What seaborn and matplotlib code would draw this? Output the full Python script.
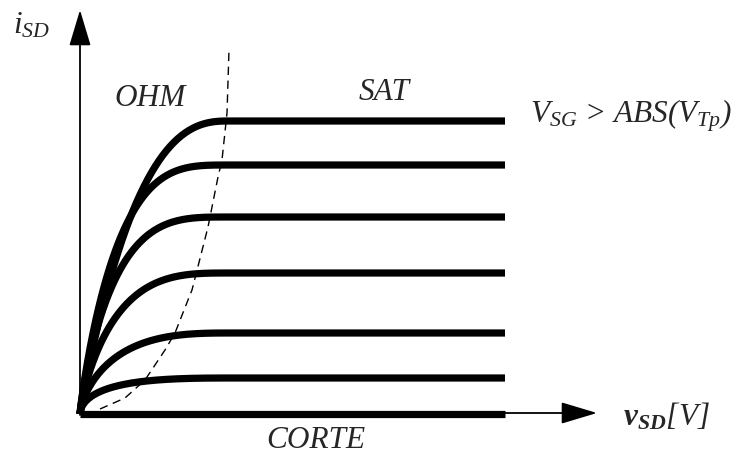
import numpy as np
import pandas as pd
import matplotlib
matplotlib.use("Agg")
import matplotlib.pyplot as plt
import seaborn as sns

# ---- data (schematic units: v in V, i in mA) ----
sat_levels = [2.93, 2.49, 1.97, 1.41, 0.81, 0.36]   # saturation currents
curve_shape = [2.5, 3.3, 3.3, 3.0, 2.6, 2.4]         # curvature of ohmic region
curve_warp = [0.95, 0.9, 0.85, 0.8, 0.7, 0.55]       # steepness near origin
v_knee = 1.48                                        # end of ohmic region
v_end = 4.25                                         # end of drawn characteristic
boundary_v = [0.20, 0.45, 0.65, 0.85, 0.95, 1.08, 1.12, 1.28, 1.38, 1.42, 1.47, 1.49]
boundary_i = [0.05, 0.16, 0.34, 0.64, 0.81, 1.14, 1.24, 1.87, 2.37, 2.54, 3.01, 3.64]

sns.set_theme(style="white")
plt.rcParams["font.family"] = ["Liberation Serif", "DejaVu Serif"]
plt.rcParams["mathtext.fontset"] = "custom"
plt.rcParams["mathtext.rm"] = "Liberation Serif:italic"
plt.rcParams["mathtext.it"] = "Liberation Serif:italic"
plt.rcParams["mathtext.bf"] = "Liberation Serif:bold:italic"

rows = []
for k, (L, p, q) in enumerate(zip(sat_levels, curve_shape, curve_warp)):
    v = np.linspace(0, v_knee, 160)
    u = (v / v_knee) ** q
    i = L * (1 - (1 - u) ** p)
    v = np.append(v, v_end)
    i = np.append(i, L)
    for a, b in zip(v, i):
        rows.append({"v": a, "i": b, "curve": k})
# cut-off line
rows.append({"v": 0.0, "i": 0.0, "curve": 99})
rows.append({"v": v_end, "i": 0.0, "curve": 99})
df = pd.DataFrame(rows)

fig = plt.figure(figsize=(7.41, 4.58), dpi=100)
ax = fig.add_axes([0, 0, 1, 1])
ax.set_xlim(-0.80, 6.61)
ax.set_ylim(-0.44, 4.14)
ax.axis("off")

sns.lineplot(data=df, x="v", y="i", units="curve", estimator=None, sort=False,
             color="black", lw=5.2, legend=False, ax=ax,
             solid_capstyle="butt", solid_joinstyle="round")

bdf = pd.DataFrame({"v": boundary_v, "i": boundary_i})
sns.lineplot(data=bdf, x="v", y="i", sort=False, estimator=None, color="black",
             lw=1.0, ax=ax, linestyle=(0, (6, 4)))

# axes arrows
arrow = dict(arrowstyle="-|>,head_length=1.5,head_width=0.45", lw=1.3,
             color="black", mutation_scale=15, shrinkA=0, shrinkB=0)
ax.annotate("", xy=(0.0, 4.04), xytext=(0.0, -0.01), arrowprops=arrow)
ax.annotate("", xy=(5.17, 0.01), xytext=(-0.02, 0.01), arrowprops=arrow)

fs = 22.5
ax.text(-0.67, 3.81, r"$i_{SD}$", fontsize=fs, ha="left", va="baseline")
ax.text(0.70, 3.15, "OHM", fontsize=fs, style="italic", ha="center", va="center")
ax.text(3.04, 3.22, "SAT", fontsize=fs, style="italic", ha="center", va="center")
ax.text(4.50, 2.91, r"$V_{SG}$ > $ABS(V_{Tp})$", fontsize=fs, style="italic",
        ha="left", va="baseline")
ax.text(5.43, -0.11, r"$\mathbf{v_{SD}}[V]$", fontsize=fs, ha="left", va="baseline")
ax.text(2.36, -0.26, "CORTE", fontsize=fs, style="italic", ha="center", va="center")

fig.savefig("out.png", dpi=100)
